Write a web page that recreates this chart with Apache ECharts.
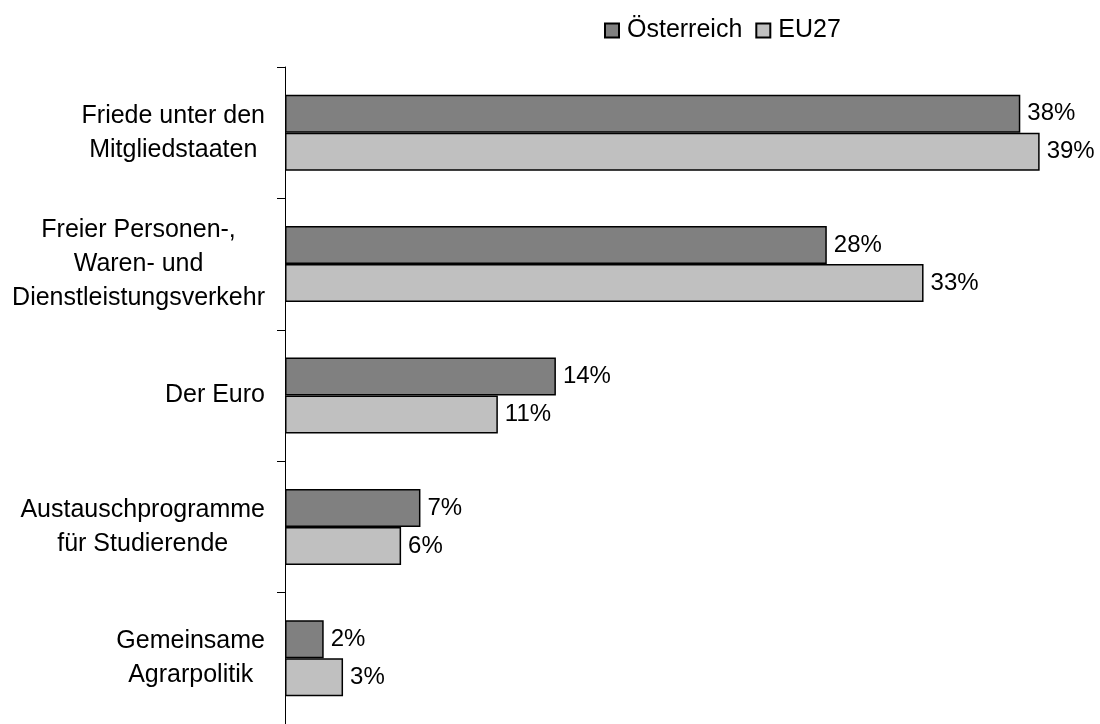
<!DOCTYPE html>
<html>
<head>
<meta charset="utf-8">
<script src="https://cdn.jsdelivr.net/npm/echarts@6/dist/echarts.min.js"></script>
<style>
html,body{margin:0;padding:0;background:#fff;}
#chart{width:1100px;height:724px;}
</style>
</head>
<body>
<div id="chart"></div>
<script>
var categories = [
  "Friede unter den\nMitgliedstaaten",
  "Freier Personen-,\nWaren- und\nDienstleistungsverkehr",
  "Der Euro",
  "Austauschprogramme\nfür Studierende",
  "Gemeinsame\nAgrarpolitik"
];
var seriesNames = ["Österreich", "EU27"];
var valuesAT = [38, 28, 14, 7, 2];
var valuesEU = [39, 33, 11, 6, 3];

var FONT = "'Liberation Sans', Arial, sans-serif";
var chart = echarts.init(document.getElementById('chart'), null, {renderer: 'canvas'});

var labelStyle = {
  show: true,
  position: 'right',
  distance: 7,
  formatter: '{c}%',
  fontFamily: FONT,
  fontSize: 24,
  color: '#000'
};

chart.setOption({
  animation: false,
  backgroundColor: '#fff',
  textStyle: {fontFamily: FONT},
  legend: {
    left: 604,
    top: 18,
    padding: 0,
    icon: 'rect',
    itemWidth: 14,
    itemHeight: 14,
    itemGap: 13,
    textStyle: {fontFamily: FONT, fontSize: 25, color: '#000', padding: [0, 0, 0, 3]},
    data: seriesNames
  },
  grid: {left: 285, top: 67, width: 774, height: 665, containLabel: false},
  xAxis: {
    type: 'value', min: 0, max: 40, show: false,
    splitLine: {show: false}
  },
  yAxis: {
    type: 'category',
    inverse: true,
    data: categories,
    axisLine: {show: true, lineStyle: {color: '#000', width: 1}},
    axisTick: {show: true, inside: false, length: 8, lineStyle: {color: '#000'}},
    axisLabel: {
      margin: 20,
      align: 'right',
      fontFamily: FONT,
      fontSize: 25,
      color: '#000',
      lineHeight: 34,
      formatter: function (v) {
        return v.split('\n').map(function (l) { return '{c|' + l + '}'; }).join('\n');
      },
      rich: {
        c: {align: 'center', fontFamily: FONT, fontSize: 25, lineHeight: 34, color: '#000'}
      }
    }
  },
  series: [
    {
      name: seriesNames[0], type: 'bar', data: valuesAT,
      barWidth: 38, barGap: '0%',
      itemStyle: {color: '#808080', borderColor: '#000', borderWidth: 1.5},
      label: labelStyle
    },
    {
      name: seriesNames[1], type: 'bar', data: valuesEU,
      barWidth: 38, barGap: '0%',
      itemStyle: {color: '#c0c0c0', borderColor: '#000', borderWidth: 1.5},
      label: labelStyle
    }
  ]
});
</script>
</body>
</html>
